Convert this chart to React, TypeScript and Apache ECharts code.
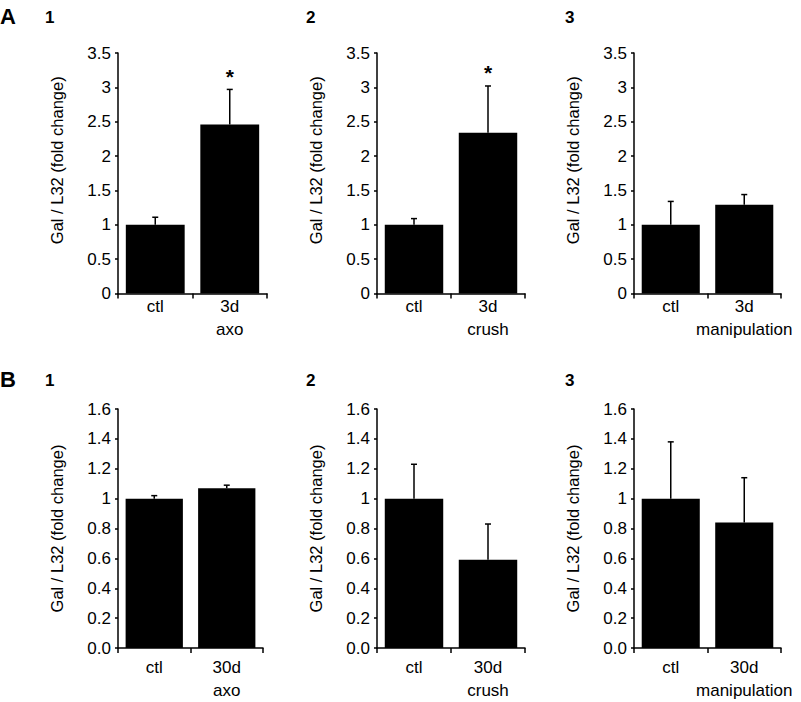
import React, { useEffect, useRef } from "react";
import * as echarts from "echarts";

// ---- Data ----
const CATS_A1 = ["ctl", "3d\naxo"];
const CATS_A2 = ["ctl", "3d\ncrush"];
const CATS_A3 = ["ctl", "3d\nmanipulation"];
const CATS_B1 = ["ctl", "30d\naxo"];
const CATS_B2 = ["ctl", "30d\ncrush"];
const CATS_B3 = ["ctl", "30d\nmanipulation"];

const A1_MEAN = [1.0, 2.46];
const A1_ERR = [0.11, 0.51];
const A1_SIG = ["", "*"];
const A2_MEAN = [1.0, 2.34];
const A2_ERR = [0.09, 0.68];
const A2_SIG = ["", "*"];
const A3_MEAN = [1.0, 1.29];
const A3_ERR = [0.34, 0.15];
const A3_SIG = ["", ""];

const B1_MEAN = [1.0, 1.07];
const B1_ERR = [0.02, 0.02];
const B1_SIG = ["", ""];
const B2_MEAN = [1.0, 0.59];
const B2_ERR = [0.23, 0.24];
const B2_SIG = ["", ""];
const B3_MEAN = [1.0, 0.84];
const B3_ERR = [0.38, 0.3];
const B3_SIG = ["", ""];

const A_MAX = 3.5;
const A_INTERVAL = 0.5;
const B_MAX = 1.6;
const B_INTERVAL = 0.2;
const B_TICK_LABELS = ["0.0", "0.2", "0.4", "0.6", "0.8", "1", "1.2", "1.4", "1.6"];

const Y_NAME = "Gal / L32 (fold change)";
const ROW_LETTERS = ["A", "B"];
const PANEL_NUMBERS = ["1", "2", "3"];

const FONT = "Liberation Sans";

type Panel = {
  cats: string[];
  mean: number[];
  err: number[];
  sig: string[];
  row: number;
};

const PANELS: Panel[] = [
  { cats: CATS_A1, mean: A1_MEAN, err: A1_ERR, sig: A1_SIG, row: 0 },
  { cats: CATS_A2, mean: A2_MEAN, err: A2_ERR, sig: A2_SIG, row: 0 },
  { cats: CATS_A3, mean: A3_MEAN, err: A3_ERR, sig: A3_SIG, row: 0 },
  { cats: CATS_B1, mean: B1_MEAN, err: B1_ERR, sig: B1_SIG, row: 1 },
  { cats: CATS_B2, mean: B2_MEAN, err: B2_ERR, sig: B2_SIG, row: 1 },
  { cats: CATS_B3, mean: B3_MEAN, err: B3_ERR, sig: B3_SIG, row: 1 },
];

// layout (pixels)
const GRID_BOXES = [
  { left: 118, top: 53, width: 149, height: 240.5 },
  { left: 377, top: 53, width: 148, height: 240.5 },
  { left: 634, top: 53, width: 147, height: 240.5 },
  { left: 118, top: 409, width: 145, height: 242 },
  { left: 377, top: 409, width: 148, height: 242 },
  { left: 634, top: 409, width: 147, height: 242 },
];

export default function App() {
  const ref = useRef<HTMLDivElement>(null);

  useEffect(() => {
    if (!ref.current) return;
    const chart = echarts.init(ref.current, undefined, { renderer: "svg" });

    const grid = GRID_BOXES.map((g) => ({ ...g, containLabel: false }));

    const xAxis = PANELS.map((p, i) => ({
      type: "category",
      gridIndex: i,
      data: p.cats,
      axisLine: { show: true, lineStyle: { color: "#000", width: 1.5 } },
      axisTick: { show: true, length: 5, lineStyle: { color: "#000", width: 1.5 } },
      axisLabel: {
        interval: 0,
        color: "#000",
        fontFamily: FONT,
        fontSize: 17,
        lineHeight: 23,
        margin: p.row === 0 ? 1 : 8,
      },
      splitLine: { show: false },
    }));

    const yAxis = PANELS.map((p, i) => ({
      type: "value",
      gridIndex: i,
      min: 0,
      max: p.row === 0 ? A_MAX : B_MAX,
      interval: p.row === 0 ? A_INTERVAL : B_INTERVAL,
      name: Y_NAME,
      nameLocation: "middle",
      nameGap: 53,
      nameTextStyle: {
        color: "#000",
        fontFamily: FONT,
        fontSize: 16.5,
        padding: p.row === 0 ? [0, 0, 0, 26] : [0, 0, 0, 0],
      },
      axisLine: { show: true, lineStyle: { color: "#000", width: 1.5 } },
      axisTick: { show: true, length: 3, lineStyle: { color: "#000", width: 1.5 } },
      splitLine: { show: false },
      axisLabel: {
        color: "#000",
        fontFamily: FONT,
        fontSize: 17,
        margin: 7,
        formatter:
          p.row === 0
            ? (v: number) => String(Math.round(v * 10) / 10)
            : (v: number) => B_TICK_LABELS[Math.round(v / B_INTERVAL)],
      },
    }));

    const series: any[] = [];
    PANELS.forEach((p, i) => {
      series.push({
        type: "bar",
        xAxisIndex: i,
        yAxisIndex: i,
        data: p.mean,
        barWidth: "79%",
        itemStyle: { color: "#000" },
        silent: true,
      });
      series.push({
        type: "custom",
        xAxisIndex: i,
        yAxisIndex: i,
        data: p.mean.map((m, k) => [k, m, p.err[k]]),
        encode: { x: 0, y: 1 },
        z: 5,
        silent: true,
        renderItem: (params: any, api: any) => {
          const idx = api.value(0);
          const m = api.value(1);
          const e = api.value(2);
          const p0 = api.coord([idx, m]);
          const p1 = api.coord([idx, m + e]);
          const children: any[] = [
            {
              type: "line",
              shape: { x1: p0[0], y1: p0[1], x2: p1[0], y2: p1[1] },
              style: { stroke: "#000", lineWidth: 1.5 },
            },
            {
              type: "line",
              shape: { x1: p1[0] - 3, y1: p1[1], x2: p1[0] + 3, y2: p1[1] },
              style: { stroke: "#000", lineWidth: 1.5 },
            },
          ];
          const s = p.sig[params.dataIndex];
          if (s) {
            children.push({
              type: "text",
              style: {
                text: s,
                x: p1[0],
                y: p1[1] - 13,
                align: "center",
                verticalAlign: "middle",
                fill: "#000",
                fontFamily: FONT,
                fontWeight: "bold",
                fontSize: 21,
              },
            });
          }
          return { type: "group", children };
        },
      });
    });

    const graphic: any[] = [];
    const rowTops = [8, 371];
    const numX = [45, 306, 565];
    ROW_LETTERS.forEach((L, r) => {
      graphic.push({
        type: "text",
        left: 0,
        top: rowTops[r] - 3,
        style: { text: L, fill: "#000", fontFamily: FONT, fontWeight: "bold", fontSize: 22 },
      });
      PANEL_NUMBERS.forEach((n, c) => {
        graphic.push({
          type: "text",
          left: numX[c],
          top: rowTops[r] + 1,
          style: { text: n, fill: "#000", fontFamily: FONT, fontWeight: "bold", fontSize: 17 },
        });
      });
    });

    chart.setOption({
      animation: false,
      backgroundColor: "#fff",
      grid,
      xAxis,
      yAxis,
      series,
      graphic,
    });

    return () => chart.dispose();
  }, []);

  return (
    <div
      ref={ref}
      style={{ position: "absolute", left: 0, top: 0, width: 801, height: 702 }}
    />
  );
}
